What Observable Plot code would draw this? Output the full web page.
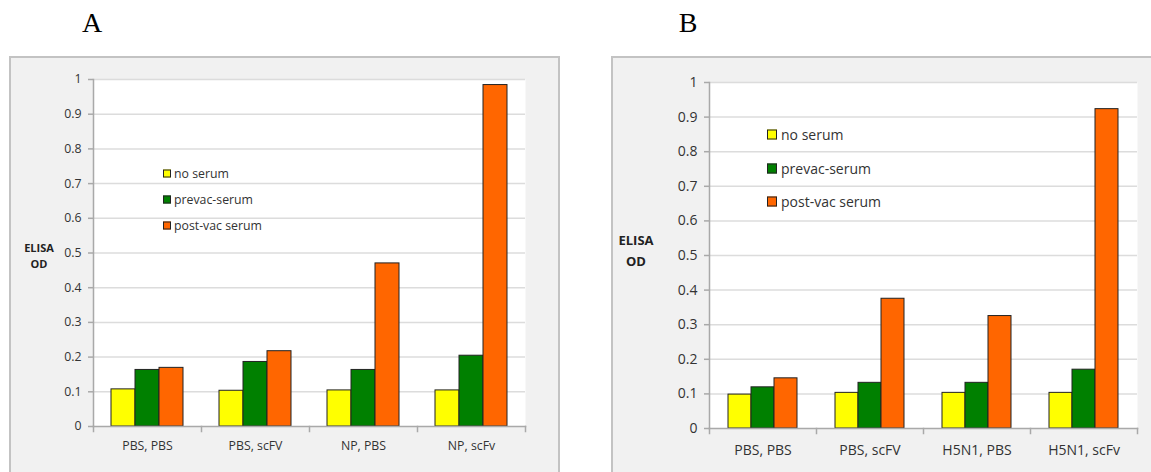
<!DOCTYPE html>
<html><head><meta charset="utf-8">
<script src="https://cdn.jsdelivr.net/npm/d3@7"></script>
<script src="https://cdn.jsdelivr.net/npm/@observablehq/plot@0.6"></script>
<style>
body{margin:0;width:1151px;height:472px;overflow:hidden;background:#fff;position:relative;font-family:"Open Sans",sans-serif;color:#333;}
.title{position:absolute;top:9px;font-family:"Liberation Serif",serif;font-size:28px;line-height:28px;color:#000;transform:translateX(-50%);}
.box{position:absolute;top:56px;height:440px;border:2px solid #c3c3c3;background:#f1f1f1;box-sizing:border-box;}
.box svg{position:absolute;left:0;top:0;}
#boxA svg text{font-family:"Open Sans",sans-serif !important;font-size:12.3px !important;}
#boxB svg text{font-family:"Open Sans",sans-serif !important;font-size:14px !important;}
.ylab{position:absolute;font-weight:bold;text-align:center;transform:translate(-50%,-50%);color:#222;}
.leg{position:absolute;white-space:nowrap;color:#333;}
.leg div{position:absolute;left:0;white-space:nowrap;transform:translateY(-50%);display:flex;align-items:center;}
.leg span.sw{display:inline-block;box-sizing:border-box;border:1px solid #222;}
</style>
</head><body>
<div class="title" style="left:92px">A</div>
<div class="title" style="left:688px">B</div>
<div class="box" id="boxA" style="left:9px;width:551px"></div>
<div class="box" id="boxB" style="left:611px;width:560px"></div>
<div class="ylab" style="left:39px;top:255px;font-size:11px;line-height:15.5px">ELISA<br>OD</div>
<div class="ylab" style="left:636px;top:250px;font-size:13px;line-height:20.5px">ELISA<br>OD</div>
<div class="leg" id="legA" style="left:163px;top:0px"></div>
<div class="leg" id="legB" style="left:767px;top:0px"></div>
<script>
// ---- data ----
const series = ["no serum", "prevac-serum", "post-vac serum"];
const colors = ["#ffff00", "#008000", "#ff6600"];
const yTicks = [0, 0.1, 0.2, 0.3, 0.4, 0.5, 0.6, 0.7, 0.8, 0.9, 1];

const groupsA = ["PBS, PBS", "PBS, scFV", "NP, PBS", "NP, scFv"];
const noSerumA = [0.107, 0.103, 0.104, 0.104];
const prevacA  = [0.163, 0.186, 0.163, 0.204];
const postvacA = [0.169, 0.217, 0.470, 0.984];

const groupsB = ["PBS, PBS", "PBS, scFV", "H5N1, PBS", "H5N1, scFv"];
const noSerumB = [0.098, 0.103, 0.103, 0.103];
const prevacB  = [0.119, 0.132, 0.132, 0.170];
const postvacB = [0.145, 0.375, 0.325, 0.923];

function panel(groups, values, o) {
  const data = [];
  groups.forEach((g, i) => series.forEach((s, j) => data.push({group: g, series: s, value: values[j][i]})));
  const plotH = o.height - o.marginTop - o.marginBottom;
  const axisC = "#a9a9a9";
  return Plot.plot({
    width: o.width, height: o.height,
    marginLeft: o.marginLeft, marginRight: o.marginRight, marginTop: o.marginTop, marginBottom: o.marginBottom,
    style: {background: "transparent", fontFamily: "Open Sans", fontSize: o.fontSize + "px", color: "#333", overflow: "visible"},
    fx: {domain: groups, padding: 0, label: null, axis: null},
    x: {domain: series, paddingInner: 0, paddingOuter: 0.75, axis: null},
    y: {domain: [0, 1], label: null, axis: null},
    color: {domain: series, range: colors},
    marks: [
      Plot.frame({facet: "super", fill: "white", stroke: null}),
      Plot.gridY(yTicks.slice(1), {stroke: "#dcdcdc", strokeOpacity: 1, strokeWidth: 1.5}),
      Plot.barY(data, {fx: "group", x: "series", y: "value", fill: "series", stroke: "#222", strokeWidth: 1}),
      Plot.frame({facet: "super", anchor: "left", stroke: axisC, strokeWidth: 1.5}),
      Plot.frame({facet: "super", anchor: "bottom", stroke: axisC, strokeWidth: 1.5}),
      Plot.frame({anchor: "left", insetTop: plotH, insetBottom: -5, stroke: axisC, strokeWidth: 1.5}),
      Plot.frame({facet: "super", anchor: "right", insetTop: plotH, insetBottom: -5, stroke: axisC, strokeWidth: 1.5}),
      Plot.axisY(yTicks, {tickSize: 5, tickPadding: o.tickPadding, stroke: axisC, strokeWidth: 1.5, tickFormat: d => String(d), fill: "#333", fontSize: o.fontSize}),
      Plot.axisFx({anchor: "bottom", tickSize: 0, tickPadding: o.fxPadding, label: null, fill: "#333", fontSize: o.fontSize})
    ]
  });
}

document.getElementById("boxA").appendChild(panel(groupsA, [noSerumA, prevacA, postvacA],
  {width: 547, height: 411, marginLeft: 81, marginRight: 33, marginTop: 21, marginBottom: 43, fontSize: 12.3, tickPadding: 7, fxPadding: 15}));
document.getElementById("boxB").appendChild(panel(groupsB, [noSerumB, prevacB, postvacB],
  {width: 538, height: 411, marginLeft: 96, marginRight: 14, marginTop: 24, marginBottom: 41, fontSize: 14, tickPadding: 7, fxPadding: 17}));

function legend(id, rowsY, sw, fs, gap) {
  const el = document.getElementById(id);
  series.forEach((s, i) => {
    const d = document.createElement("div");
    d.style.top = rowsY[i] + "px";
    d.style.fontSize = fs + "px";
    d.innerHTML = `<span class="sw" style="width:${sw}px;height:${sw}px;background:${colors[i]};margin-right:${gap}px"></span>${s}`;
    el.appendChild(d);
  });
}
legend("legA", [173, 199, 225], 8, 12.3, 3);
legend("legB", [134, 168, 201], 10, 14, 4);
</script>
</body></html>
